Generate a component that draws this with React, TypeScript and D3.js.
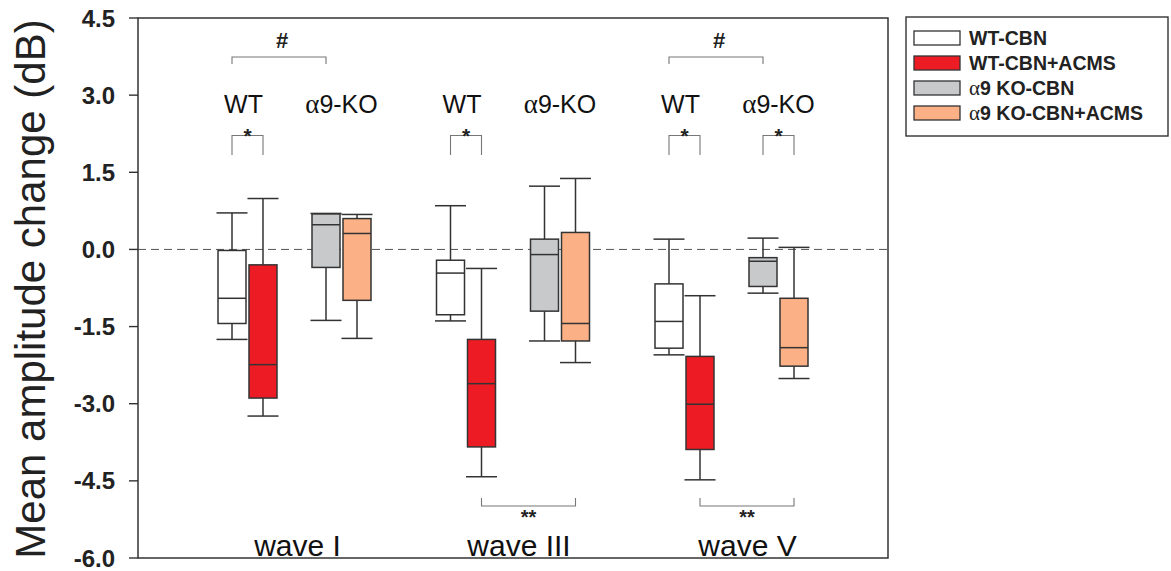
import React from 'react'
import { scaleLinear, scalePoint } from 'd3'

// waves, groups, five-number summaries
const waves = ['wave I', 'wave III', 'wave V']
const groups = ['WT-CBN', 'WT-CBN+ACMS', 'α9 KO-CBN', 'α9 KO-CBN+ACMS']
const groupFills = ['#ffffff', '#ed1c24', '#c8c9cb', '#fbb085']

// [whisker low, q1, median, q3, whisker high] per wave
const wtCbn = [[-1.75, -1.44, -0.95, -0.02, 0.71], [-1.39, -1.27, -0.46, -0.21, 0.85], [-2.05, -1.92, -1.40, -0.67, 0.20]]
const wtAcms = [[-3.24, -2.89, -2.24, -0.30, 0.99], [-4.42, -3.84, -2.61, -1.75, -0.37], [-4.48, -3.89, -3.01, -2.08, -0.90]]
const koCbn = [[-1.38, -0.35, 0.48, 0.69, 0.70], [-1.78, -1.20, -0.10, 0.20, 1.23], [-0.85, -0.72, -0.23, -0.16, 0.22]]
const koAcms = [[-1.73, -0.99, 0.31, 0.60, 0.68], [-2.20, -1.78, -1.44, 0.33, 1.38], [-2.51, -2.27, -1.91, -0.95, 0.04]]
const stats = [wtCbn, wtAcms, koCbn, koAcms]

const yTicks = [4.5, 3.0, 1.5, 0.0, -1.5, -3.0, -4.5, -6.0]
const genotypes = ['WT', 'α9-KO']
const waveLabelShift = [3, 6, 16]

// significance marks: wave index, group a, group b, label
const hashMarks = [[0, 0, 2, '#'], [2, 0, 2, '#']]
const starMarks = [[0, 0, 1, '*'], [1, 0, 1, '*'], [2, 0, 1, '*'], [2, 2, 3, '*']]
const bottomMarks = [[1, 1, 3, '**'], [2, 1, 3, '**']]

const serif = 'Liberation Serif, Times New Roman, serif'

// alpha drawn in a serif face, like the Symbol glyph in the original
function AlphaText({ s, bold }: { s: string; bold?: boolean }) {
  if (!s.startsWith('α')) return <>{s}</>
  return (
    <>
      <tspan fontFamily={serif} fontWeight="normal" fontSize="1.08em">α</tspan>
      <tspan fontWeight={bold ? 'bold' : 'normal'}>{s.slice(1)}</tspan>
    </>
  )
}

export default function App() {
  const width = 1171
  const height = 571
  const left = 138, right = 888, top = 18, bottom = 558

  const y = scaleLinear().domain([-6, 4.5]).range([bottom, top])
  const xWave = scalePoint().domain(waves).range([294.5, 731.5])
  const xGeno = scalePoint().domain(['WT', 'KO']).range([-47, 47])
  const xTreat = scalePoint().domain(['CBN', 'ACMS']).range([-15.5, 15.5])

  const boxX = (w: number, g: number) =>
    (xWave(waves[w]) as number) + (xGeno(g < 2 ? 'WT' : 'KO') as number) + (xTreat(g % 2 ? 'ACMS' : 'CBN') as number)

  const bw = 28
  const cap = 31
  const stroke = '#333'
  const font = 'Liberation Sans, Arial, sans-serif'

  return (
    <svg width={width} height={height} style={{ position: 'absolute', left: 0, top: 0, background: '#fff' }} fontFamily={font}>
      {/* y ticks */}
      {yTicks.map(t => (
        <g key={t}>
          <line x1={left - 9} x2={left} y1={y(t)} y2={y(t)} stroke={stroke} strokeWidth={1.4} />
          <text x={115} y={y(t) + 8.5} textAnchor="end" fontSize={24} fontWeight="bold" fill="#222">{t.toFixed(1)}</text>
        </g>
      ))}
      <text transform={`translate(45,289) rotate(-90)`} textAnchor="middle" fontSize={42} fill="#222">
        Mean amplitude change (dB)
      </text>

      {/* zero line */}
      <line x1={left} x2={right} y1={y(0)} y2={y(0)} stroke="#555" strokeWidth={1} strokeDasharray="8,5" />

      {/* boxes */}
      {waves.map((wv, w) => groups.map((gname, g) => {
        const [lo, q1, med, q3, hi] = stats[g][w]
        const cx = boxX(w, g)
        return (
          <g key={wv + gname} stroke={stroke} strokeWidth={1.5}>
            <line x1={cx} x2={cx} y1={y(hi)} y2={y(q3)} />
            <line x1={cx} x2={cx} y1={y(q1)} y2={y(lo)} />
            <line x1={cx - cap / 2} x2={cx + cap / 2} y1={y(hi)} y2={y(hi)} />
            <line x1={cx - cap / 2} x2={cx + cap / 2} y1={y(lo)} y2={y(lo)} />
            <rect x={cx - bw / 2} y={y(q3)} width={bw} height={y(q1) - y(q3)} fill={groupFills[g]} />
            <line x1={cx - bw / 2} x2={cx + bw / 2} y1={y(med)} y2={y(med)} />
          </g>
        )
      }))}

      {/* genotype labels */}
      {waves.map(wv => genotypes.map((gt, i) => (
        <text key={wv + gt} x={(xWave(wv) as number) + (xGeno(i ? 'KO' : 'WT') as number) - (i ? 0 : 4)} y={113}
          textAnchor="middle" fontSize={25} fill="#111"><AlphaText s={gt} /></text>
      )))}

      {/* # brackets */}
      {hashMarks.map(([w, a, b, lab], i) => {
        const x1 = boxX(w as number, a as number), x2 = boxX(w as number, b as number)
        return (
          <g key={'h' + i}>
            <path d={`M${x1},64V57H${x2}V64`} fill="none" stroke="#777" strokeWidth={1.1} />
            <text x={(x1 + x2) / 2 + 3} y={48} textAnchor="middle" fontSize={22} fontWeight="bold" fill="#222">{lab}</text>
          </g>
        )
      })}

      {/* * brackets */}
      {starMarks.map(([w, a, b, lab], i) => {
        const x1 = boxX(w as number, a as number), x2 = boxX(w as number, b as number)
        return (
          <g key={'s' + i}>
            <path d={`M${x1},155V135.5H${x2}V155`} fill="none" stroke="#777" strokeWidth={1.1} />
            <text x={(x1 + x2) / 2} y={143} textAnchor="middle" fontSize={21} fontWeight="bold" fill="#222">{lab}</text>
          </g>
        )
      })}

      {/* ** brackets */}
      {bottomMarks.map(([w, a, b, lab], i) => {
        const x1 = boxX(w as number, a as number), x2 = boxX(w as number, b as number)
        return (
          <g key={'b' + i}>
            <path d={`M${x1},498V506H${x2}V498`} fill="none" stroke="#777" strokeWidth={1.1} />
            <text x={(x1 + x2) / 2} y={524} textAnchor="middle" fontSize={20} fontWeight="bold" fill="#222">{lab}</text>
          </g>
        )
      })}

      {/* wave labels */}
      {waves.map((wv, i) => (
        <text key={wv} x={(xWave(wv) as number) + waveLabelShift[i]} y={556} textAnchor="middle" fontSize={30} fill="#111">{wv}</text>
      ))}

      {/* frame */}
      <rect x={left} y={top} width={right - left} height={bottom - top} fill="none" stroke={stroke} strokeWidth={1.5} />

      {/* legend */}
      <rect x={906} y={17} width={262} height={119} fill="#fff" stroke={stroke} strokeWidth={1.4} />
      {groups.map((gname, g) => (
        <g key={gname}>
          <rect x={914} y={31 + g * 25} width={46} height={14} fill={groupFills[g]} stroke={stroke} strokeWidth={1.3} />
          <text x={969} y={45 + g * 25} fontSize={19.5} fontWeight="bold" fill="#222"><AlphaText s={gname} bold /></text>
        </g>
      ))}
    </svg>
  )
}
